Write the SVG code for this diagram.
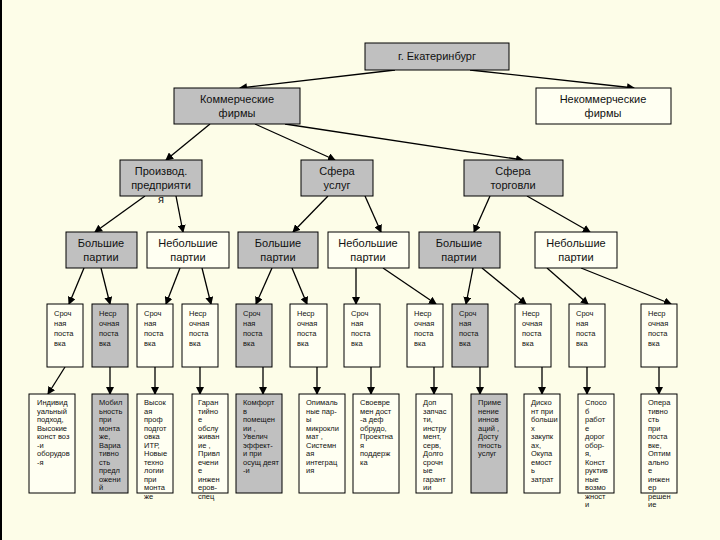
<svg xmlns="http://www.w3.org/2000/svg" width="720" height="540" viewBox="0 0 720 540">
<style>
.b{stroke:#000;stroke-width:1;fill:#fffff2}
.g{stroke:#000;stroke-width:1;fill:#c0c0c0}
text{font-family:"Liberation Sans",Arial,sans-serif;fill:#111}
.m{font-size:11px;text-anchor:middle}
.s{font-size:7.5px}
.c line{stroke:#000;stroke-width:1.3;marker-end:url(#a)}
</style>
<defs><marker id="a" markerWidth="8" markerHeight="8" refX="7" refY="4" orient="auto" markerUnits="userSpaceOnUse"><path d="M0,0L8,4L0,8z" fill="#000"/></marker></defs>
<rect width="720" height="540" fill="#fdfde8"/>
<line x1="1" y1="0" x2="1" y2="540" stroke="#000" stroke-width="2"/>
<g class="c">
<line x1="395" y1="70" x2="240" y2="88"/><line x1="470" y1="70" x2="634" y2="88"/>
<line x1="210" y1="124" x2="166" y2="160"/><line x1="255" y1="124" x2="335" y2="160"/><line x1="285" y1="124" x2="523" y2="160"/>
<line x1="145" y1="196" x2="95" y2="232"/><line x1="176" y1="196" x2="183" y2="232"/>
<line x1="328" y1="196" x2="293" y2="232"/><line x1="365" y1="196" x2="381" y2="232"/>
<line x1="490" y1="196" x2="474" y2="232"/><line x1="527" y1="196" x2="590" y2="232"/>
<line x1="84" y1="268" x2="69" y2="304"/><line x1="101" y1="268" x2="110" y2="304"/>
<line x1="180" y1="268" x2="166" y2="304"/><line x1="202" y1="268" x2="211" y2="304"/>
<line x1="272" y1="268" x2="256" y2="304"/><line x1="292" y1="268" x2="307" y2="304"/>
<line x1="356" y1="268" x2="356" y2="304"/><line x1="383" y1="268" x2="436" y2="304"/>
<line x1="473" y1="268" x2="466" y2="304"/><line x1="482" y1="268" x2="526" y2="304"/>
<line x1="547" y1="268" x2="588" y2="304"/><line x1="581" y1="268" x2="671" y2="304"/>
<line x1="65" y1="367" x2="48" y2="394"/><line x1="110" y1="367" x2="110" y2="394"/>
<line x1="155" y1="367" x2="155" y2="394"/><line x1="200" y1="367" x2="200" y2="394"/>
<line x1="263" y1="367" x2="263" y2="394"/><line x1="317" y1="367" x2="317" y2="394"/>
<line x1="371" y1="367" x2="371" y2="394"/><line x1="434" y1="367" x2="434" y2="394"/>
<line x1="480" y1="367" x2="480" y2="394"/><line x1="542" y1="367" x2="542" y2="394"/>
<line x1="587" y1="367" x2="587" y2="394"/><line x1="659" y1="367" x2="659" y2="394"/>
</g>
<g id="root"><rect class="g" x="365" y="43" width="144" height="27"/><text class="m" x="437" y="60">г. Екатеринбург</text></g>
<g id="kom"><rect class="g" x="174" y="88" width="126" height="36"/><text class="m" x="237" y="103">Коммерческие<tspan x="237" dy="14">фирмы</tspan></text></g>
<g id="nekom"><rect class="b" x="536" y="88" width="135" height="36"/><text class="m" x="603" y="103">Некоммерческие<tspan x="603" dy="14">фирмы</tspan></text></g>
<g id="proizv"><rect class="g" x="120" y="160" width="82" height="36"/><text class="m" x="161" y="175">Производ.<tspan x="161" dy="14">предприяти</tspan><tspan x="161" dy="14">я</tspan></text></g>
<g id="usl"><rect class="g" x="301" y="160" width="72" height="36"/><text class="m" x="337" y="175">Сфера<tspan x="337" dy="14">услуг</tspan></text></g>
<g id="torg"><rect class="g" x="464" y="160" width="99" height="36"/><text class="m" x="513" y="175">Сфера<tspan x="513" dy="14">торговли</tspan></text></g>
<g id="b1"><rect class="g" x="66" y="232" width="71" height="36"/><text class="m" x="101" y="247">Большие<tspan x="101" dy="14">партии</tspan></text></g>
<g id="n1"><rect class="b" x="147" y="232" width="82" height="36"/><text class="m" x="188" y="247">Небольшие<tspan x="188" dy="14">партии</tspan></text></g>
<g id="b2"><rect class="g" x="238" y="232" width="80" height="36"/><text class="m" x="278" y="247">Большие<tspan x="278" dy="14">партии</tspan></text></g>
<g id="n2"><rect class="b" x="328" y="232" width="81" height="36"/><text class="m" x="368" y="247">Небольшие<tspan x="368" dy="14">партии</tspan></text></g>
<g id="b3"><rect class="g" x="419" y="232" width="81" height="36"/><text class="m" x="459" y="247">Большие<tspan x="459" dy="14">партии</tspan></text></g>
<g id="n3"><rect class="b" x="535" y="232" width="82" height="36"/><text class="m" x="576" y="247">Небольшие<tspan x="576" dy="14">партии</tspan></text></g>
<g id="l5a"><rect class="b" x="47" y="304" width="36" height="63"/><text class="s" x="54" y="316">Сроч<tspan x="54" dy="10">ная</tspan><tspan x="54" dy="10">поста</tspan><tspan x="54" dy="10">вка</tspan></text></g>
<g id="l5b"><rect class="g" x="92" y="304" width="36" height="63"/><text class="s" x="99" y="316">Неср<tspan x="99" dy="10">очная</tspan><tspan x="99" dy="10">поста</tspan><tspan x="99" dy="10">вка</tspan></text></g>
<g id="l5c"><rect class="b" x="137" y="304" width="36" height="63"/><text class="s" x="144" y="316">Сроч<tspan x="144" dy="10">ная</tspan><tspan x="144" dy="10">поста</tspan><tspan x="144" dy="10">вка</tspan></text></g>
<g id="l5d"><rect class="b" x="182" y="304" width="36" height="63"/><text class="s" x="189" y="316">Неср<tspan x="189" dy="10">очная</tspan><tspan x="189" dy="10">поста</tspan><tspan x="189" dy="10">вка</tspan></text></g>
<g id="l5e"><rect class="g" x="236" y="304" width="36" height="63"/><text class="s" x="243" y="316">Сроч<tspan x="243" dy="10">ная</tspan><tspan x="243" dy="10">поста</tspan><tspan x="243" dy="10">вка</tspan></text></g>
<g id="l5f"><rect class="b" x="290" y="304" width="37" height="63"/><text class="s" x="297" y="316">Неср<tspan x="297" dy="10">очная</tspan><tspan x="297" dy="10">поста</tspan><tspan x="297" dy="10">вка</tspan></text></g>
<g id="l5g"><rect class="b" x="344" y="304" width="36" height="63"/><text class="s" x="351" y="316">Сроч<tspan x="351" dy="10">ная</tspan><tspan x="351" dy="10">поста</tspan><tspan x="351" dy="10">вка</tspan></text></g>
<g id="l5h"><rect class="b" x="407" y="304" width="36" height="63"/><text class="s" x="414" y="316">Неср<tspan x="414" dy="10">очная</tspan><tspan x="414" dy="10">поста</tspan><tspan x="414" dy="10">вка</tspan></text></g>
<g id="l5i"><rect class="g" x="452" y="304" width="36" height="63"/><text class="s" x="459" y="316">Сроч<tspan x="459" dy="10">ная</tspan><tspan x="459" dy="10">поста</tspan><tspan x="459" dy="10">вка</tspan></text></g>
<g id="l5j"><rect class="b" x="515" y="304" width="36" height="63"/><text class="s" x="522" y="316">Неср<tspan x="522" dy="10">очная</tspan><tspan x="522" dy="10">поста</tspan><tspan x="522" dy="10">вка</tspan></text></g>
<g id="l5k"><rect class="b" x="569" y="304" width="36" height="63"/><text class="s" x="576" y="316">Сроч<tspan x="576" dy="10">ная</tspan><tspan x="576" dy="10">поста</tspan><tspan x="576" dy="10">вка</tspan></text></g>
<g id="l5l"><rect class="b" x="641" y="304" width="36" height="63"/><text class="s" x="648" y="316">Неср<tspan x="648" dy="10">очная</tspan><tspan x="648" dy="10">поста</tspan><tspan x="648" dy="10">вка</tspan></text></g>
<g id="l6a"><rect class="b" x="29" y="394" width="46" height="99"/><text class="s" x="37" y="405">Индивид<tspan x="37" dy="8.5">уальный</tspan><tspan x="37" dy="8.5">подход,</tspan><tspan x="37" dy="8.5">Высокие</tspan><tspan x="37" dy="8.5">конст воз</tspan><tspan x="37" dy="8.5">-и</tspan><tspan x="37" dy="8.5">оборудов</tspan><tspan x="37" dy="8.5">-я</tspan></text></g>
<g id="l6b"><rect class="g" x="92" y="394" width="36" height="99"/><text class="s" x="99" y="405">Мобил<tspan x="99" dy="8.5">ьность</tspan><tspan x="99" dy="8.5">при</tspan><tspan x="99" dy="8.5">монта</tspan><tspan x="99" dy="8.5">же,</tspan><tspan x="99" dy="8.5">Вариа</tspan><tspan x="99" dy="8.5">тивно</tspan><tspan x="99" dy="8.5">сть</tspan><tspan x="99" dy="8.5">предл</tspan><tspan x="99" dy="8.5">ожени</tspan><tspan x="99" dy="8.5">й</tspan></text></g>
<g id="l6c"><rect class="b" x="137" y="394" width="36" height="99"/><text class="s" x="144" y="405">Высок<tspan x="144" dy="8.5">ая</tspan><tspan x="144" dy="8.5">проф</tspan><tspan x="144" dy="8.5">подгот</tspan><tspan x="144" dy="8.5">овка</tspan><tspan x="144" dy="8.5">ИТР,</tspan><tspan x="144" dy="8.5">Новые</tspan><tspan x="144" dy="8.5">техно</tspan><tspan x="144" dy="8.5">логии</tspan><tspan x="144" dy="8.5">при</tspan><tspan x="144" dy="8.5">монта</tspan><tspan x="144" dy="8.5">же</tspan></text></g>
<g id="l6d"><rect class="b" x="192" y="394" width="36" height="99"/><text class="s" x="198" y="405">Гаран<tspan x="198" dy="8.5">тийно</tspan><tspan x="198" dy="8.5">е</tspan><tspan x="198" dy="8.5">обслу</tspan><tspan x="198" dy="8.5">живан</tspan><tspan x="198" dy="8.5">ие ,</tspan><tspan x="198" dy="8.5">Привл</tspan><tspan x="198" dy="8.5">ечени</tspan><tspan x="198" dy="8.5">е</tspan><tspan x="198" dy="8.5">инжен</tspan><tspan x="198" dy="8.5">еров-</tspan><tspan x="198" dy="8.5">спец</tspan></text></g>
<g id="l6e"><rect class="g" x="236" y="394" width="46" height="99"/><text class="s" x="243" y="405">Комфорт<tspan x="243" dy="8.5">в</tspan><tspan x="243" dy="8.5">помещен</tspan><tspan x="243" dy="8.5">ии ,</tspan><tspan x="243" dy="8.5">Увелич</tspan><tspan x="243" dy="8.5">эффект-</tspan><tspan x="243" dy="8.5">и при</tspan><tspan x="243" dy="8.5">осущ деят</tspan><tspan x="243" dy="8.5">-и</tspan></text></g>
<g id="l6f"><rect class="b" x="299" y="394" width="46" height="99"/><text class="s" x="306" y="405">Опималь<tspan x="306" dy="8.5">ные пар-</tspan><tspan x="306" dy="8.5">ы</tspan><tspan x="306" dy="8.5">микрокли</tspan><tspan x="306" dy="8.5">мат ,</tspan><tspan x="306" dy="8.5">Системн</tspan><tspan x="306" dy="8.5">ая</tspan><tspan x="306" dy="8.5">интеграц</tspan><tspan x="306" dy="8.5">ия</tspan></text></g>
<g id="l6g"><rect class="b" x="353" y="394" width="46" height="99"/><text class="s" x="360" y="405">Своевре<tspan x="360" dy="8.5">мен дост</tspan><tspan x="360" dy="8.5">-а деф</tspan><tspan x="360" dy="8.5">обрудо,</tspan><tspan x="360" dy="8.5">Проектна</tspan><tspan x="360" dy="8.5">я</tspan><tspan x="360" dy="8.5">поддерж</tspan><tspan x="360" dy="8.5">ка</tspan></text></g>
<g id="l6h"><rect class="b" x="416" y="394" width="36" height="99"/><text class="s" x="423" y="405">Доп<tspan x="423" dy="8.5">запчас</tspan><tspan x="423" dy="8.5">ти,</tspan><tspan x="423" dy="8.5">инстру</tspan><tspan x="423" dy="8.5">мент,</tspan><tspan x="423" dy="8.5">серв,</tspan><tspan x="423" dy="8.5">Долго</tspan><tspan x="423" dy="8.5">срочн</tspan><tspan x="423" dy="8.5">ые</tspan><tspan x="423" dy="8.5">гарант</tspan><tspan x="423" dy="8.5">ии</tspan></text></g>
<g id="l6i"><rect class="g" x="471" y="394" width="36" height="99"/><text class="s" x="478" y="405">Приме<tspan x="478" dy="8.5">нение</tspan><tspan x="478" dy="8.5">иннов</tspan><tspan x="478" dy="8.5">аций ,</tspan><tspan x="478" dy="8.5">Досту</tspan><tspan x="478" dy="8.5">пность</tspan><tspan x="478" dy="8.5">услуг</tspan></text></g>
<g id="l6j"><rect class="b" x="524" y="394" width="36" height="99"/><text class="s" x="531" y="405">Диско<tspan x="531" dy="8.5">нт при</tspan><tspan x="531" dy="8.5">больши</tspan><tspan x="531" dy="8.5">х</tspan><tspan x="531" dy="8.5">закупк</tspan><tspan x="531" dy="8.5">ах,</tspan><tspan x="531" dy="8.5">Окупа</tspan><tspan x="531" dy="8.5">емост</tspan><tspan x="531" dy="8.5">ь</tspan><tspan x="531" dy="8.5">затрат</tspan></text></g>
<g id="l6k"><rect class="b" x="578" y="394" width="36" height="99"/><text class="s" x="585" y="405">Спосо<tspan x="585" dy="8.5">б</tspan><tspan x="585" dy="8.5">работ</tspan><tspan x="585" dy="8.5">е</tspan><tspan x="585" dy="8.5">дорог</tspan><tspan x="585" dy="8.5">обор-</tspan><tspan x="585" dy="8.5">я,</tspan><tspan x="585" dy="8.5">Конст</tspan><tspan x="585" dy="8.5">руктив</tspan><tspan x="585" dy="8.5">ные</tspan><tspan x="585" dy="8.5">возмо</tspan><tspan x="585" dy="8.5">жност</tspan><tspan x="585" dy="8.5">и</tspan></text></g>
<g id="l6l"><rect class="b" x="641" y="394" width="36" height="99"/><text class="s" x="648" y="405">Опера<tspan x="648" dy="8.5">тивно</tspan><tspan x="648" dy="8.5">сть</tspan><tspan x="648" dy="8.5">при</tspan><tspan x="648" dy="8.5">поста</tspan><tspan x="648" dy="8.5">вке,</tspan><tspan x="648" dy="8.5">Оптим</tspan><tspan x="648" dy="8.5">ально</tspan><tspan x="648" dy="8.5">е</tspan><tspan x="648" dy="8.5">инжен</tspan><tspan x="648" dy="8.5">ер</tspan><tspan x="648" dy="8.5">решен</tspan><tspan x="648" dy="8.5">ие</tspan></text></g>
</svg>
